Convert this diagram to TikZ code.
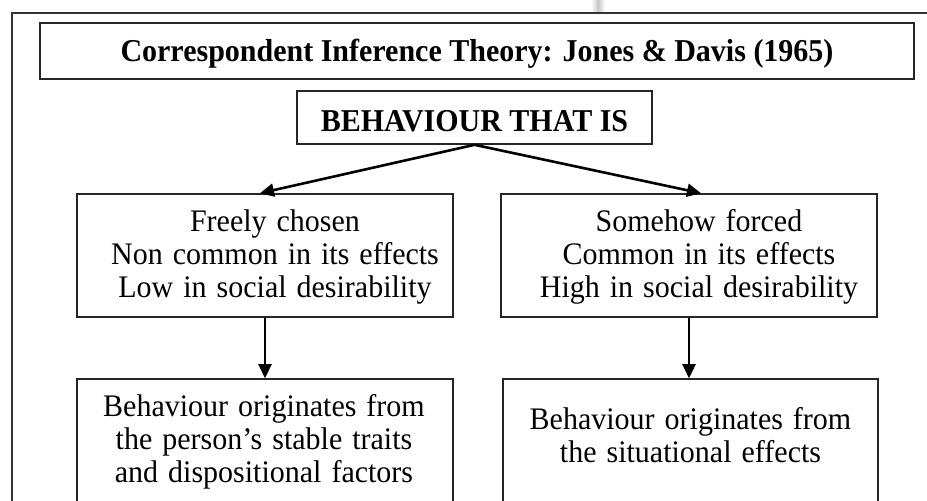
\documentclass[tikz,border=0pt]{standalone}
\usepackage{fontspec}
\setmainfont{Liberation Serif}
\usetikzlibrary{arrows.meta,calc}
\begin{document}
\begin{tikzpicture}[x=1pt,y=-1pt,
  box/.style={draw=black!85, line width=1.6pt, inner sep=0pt, rectangle},
  txt/.style={font=\fontsize{30}{31.5}\selectfont, align=center, text width=372pt, inner sep=0pt, anchor=base, yscale=1.045, transform shape},
  hd/.style={font=\bfseries\fontsize{30}{33}\selectfont, inner sep=0pt, anchor=base, yscale=1.06, transform shape},
  arr/.style={line width=2.6pt, -{Triangle[length=14pt,width=13pt]}},
  frameline/.style={draw=black!80, line width=1.6pt}]
\useasboundingbox (0,0) rectangle (927,501);
\clip (0,0) rectangle (927,501);
% page shadow and outer frame
\shade[left color=white, right color=white, middle color=black!22] (591,0) rectangle (605,12);
\coordinate (fbl) at (12,530);
\coordinate (ftl) at (12,13);
\coordinate (ftr) at (950,13);
\draw[frameline] (fbl) -- (ftl) -- (ftr);
% boxes
\node[box, minimum width=874pt, minimum height=56pt] (title) at (477,51) {};
\node[box, minimum width=355pt, minimum height=53pt] (beh) at (474.5,117.5) {};
\node[box, minimum width=376pt, minimum height=123pt] (ml) at (265,255.5) {};
\node[box, minimum width=376pt, minimum height=123pt] (mr) at (689,255.5) {};
\node[box, minimum width=376pt, minimum height=125pt] (bl) at (265,441.5) {};
\node[box, minimum width=375pt, minimum height=125pt] (br) at (690.5,441.5) {};
% texts
\node[hd] (titletext) at (477,61.5) {Correspondent Inference Theory: Jones \& Davis (1965)};
\node[hd] (behtext) at (474.5,131.5) {BEHAVIOUR THAT IS};
\node[txt] (mltext) at ($(ml.north)+(10,38)$) {Freely chosen\\Non common in its effects\\Low in social desirability};
\node[txt] (mrtext) at ($(mr.north)+(10,38)$) {Somehow forced\\Common in its effects\\High in social desirability};
\node[txt] (bltext) at ($(bl.north)+(-1,38)$) {Behaviour originates from\\the person’s stable traits\\and dispositional factors};
\node[txt] (brtext) at ($(br.north)+(0,51)$) {Behaviour originates from\\the situational effects};
% connectors
\draw[arr] (beh.south) -- ($(ml.north)+(-5,0)$);
\draw[arr] (beh.south) -- ($(mr.north)+(12,0)$);
\draw[arr] (ml.south) -- (bl.north);
\draw[arr] (mr.south) -- (mr.south |- br.north);
\end{tikzpicture}
\end{document}
